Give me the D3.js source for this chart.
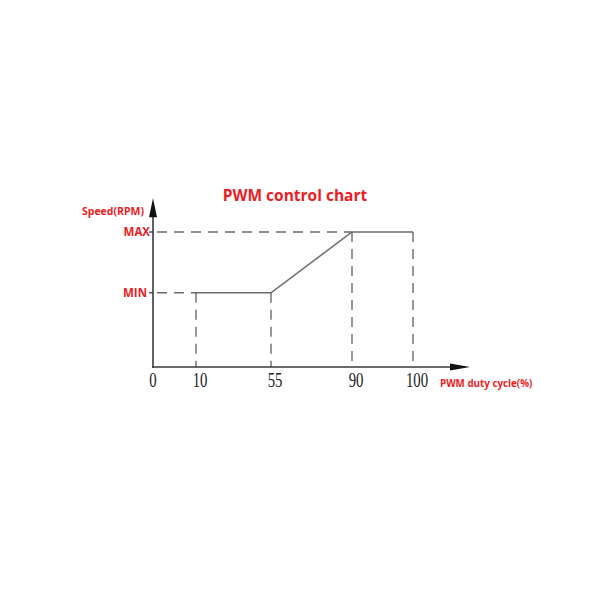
<!DOCTYPE html>
<html>
<head>
<meta charset="utf-8">
<title>PWM control chart</title>
<script src="https://cdn.jsdelivr.net/npm/d3@7"></script>
<style>
    html, body { margin: 0; padding: 0; background: #fff; }
    svg { display: block; }
    .red { fill: #ec1c24; font-family: "Open Sans", "DejaVu Sans", sans-serif; font-weight: bold; }
    .tick-num { font-family: "Liberation Serif", "DejaVu Serif", serif; fill: #222; }
</style>
</head>
<body>
<svg id="chart" width="600" height="600"></svg>
<script>
// duty cycle breakpoints (%) shown on the x axis
const dutyTicks = [0, 10, 55, 90, 100];
// speed levels, as a fraction of max speed
const speedLabels = ["MIN", "MAX"];
const speedValues = [0.55, 1.0];
// the control curve: duty cycle -> speed level
const curveDuty = [10, 55, 90, 100];
const curveSpeed = ["MIN", "MIN", "MAX", "MAX"];

const svg = d3.select("#chart");
const lineColor = "#6b6b6b";
const axisColor = "#3a3a3a";

// schematic chart: breakpoints are not evenly spaced
const x = d3.scaleLinear().domain(dutyTicks).range([153, 196, 271, 352, 413]);
const y = d3.scaleLinear().domain([0, 1]).range([367, 232]);
const speedOf = label => speedValues[speedLabels.indexOf(label)];

// title
svg.append("text").attr("class", "red")
    .attr("x", 295).attr("y", 201)
    .attr("text-anchor", "middle")
    .style("font-size", "15.5px")
    .text("PWM control chart");

// dashed guides
const dash = "10,7";
const g = svg.append("g");
speedLabels.forEach((lab, i) => {
    // horizontal guide from the axis to the first curve point at that level
    const firstIdx = curveSpeed.indexOf(lab);
    g.append("line")
        .attr("x1", x(0)).attr("x2", x(curveDuty[firstIdx]))
        .attr("y1", y(speedValues[i])).attr("y2", y(speedValues[i]))
        .attr("stroke", lineColor).attr("stroke-width", 1.4)
        .attr("stroke-dasharray", dash).attr("stroke-dashoffset", -4);
});
curveDuty.forEach((d, i) => {
    g.append("line")
        .attr("x1", x(d)).attr("x2", x(d))
        .attr("y1", y(speedOf(curveSpeed[i]))).attr("y2", y(0))
        .attr("stroke", lineColor).attr("stroke-width", 1.4)
        .attr("stroke-dasharray", dash);
});

// curve
const line = d3.line().x(d => x(d[0])).y(d => y(speedOf(d[1])));
svg.append("path")
    .datum(curveDuty.map((d, i) => [d, curveSpeed[i]]))
    .attr("d", line)
    .attr("fill", "none")
    .attr("stroke", lineColor)
    .attr("stroke-width", 1.5);

// axes with arrow heads
const yTop = y(1.25), xEnd = 470;
svg.append("line")
    .attr("x1", x(0)).attr("x2", x(0))
    .attr("y1", y(0) + 1).attr("y2", yTop + 10)
    .attr("stroke", axisColor).attr("stroke-width", 1.6);
svg.append("path")
    .attr("d", `M${x(0)},${yTop} L${x(0) - 4},${yTop + 19} L${x(0) + 4},${yTop + 19} Z`)
    .attr("fill", "#111");
svg.append("line")
    .attr("x1", x(0) - 1).attr("x2", xEnd - 10)
    .attr("y1", y(0)).attr("y2", y(0))
    .attr("stroke", axisColor).attr("stroke-width", 1.6);
svg.append("path")
    .attr("d", `M${xEnd},${y(0)} L${xEnd - 20},${y(0) - 3.5} L${xEnd - 20},${y(0) + 3.5} Z`)
    .attr("fill", "#111");

// y-axis labels and small ticks
speedLabels.forEach((lab, i) => {
    svg.append("line")
        .attr("x1", x(0) - 4).attr("x2", x(0))
        .attr("y1", y(speedValues[i])).attr("y2", y(speedValues[i]))
        .attr("stroke", axisColor).attr("stroke-width", 1.3);
    svg.append("text").attr("class", "red")
        .attr("x", x(0) - (lab === "MAX" ? 3 : 6)).attr("y", y(speedValues[i]) + 4)
        .attr("text-anchor", "end")
        .style("font-size", "11.5px")
        .text(lab);
});
svg.append("text").attr("class", "red")
    .attr("x", 144).attr("y", 214.5)
    .attr("text-anchor", "end")
    .style("font-size", "10.5px")
    .text("Speed(RPM)");

// x-axis numbers (condensed serif)
dutyTicks.forEach(d => {
    svg.append("g")
        .attr("transform", `translate(${x(d) + (d === 0 ? 0 : 4)},387) scale(0.72,1)`)
        .append("text").attr("class", "tick-num")
        .attr("text-anchor", "middle")
        .style("font-size", "20.5px")
        .text(d);
});
svg.append("text").attr("class", "red")
    .attr("x", 440).attr("y", 386.5)
    .style("font-size", "9.8px")
    .text("PWM duty cycle(%)");
</script>
</body>
</html>
